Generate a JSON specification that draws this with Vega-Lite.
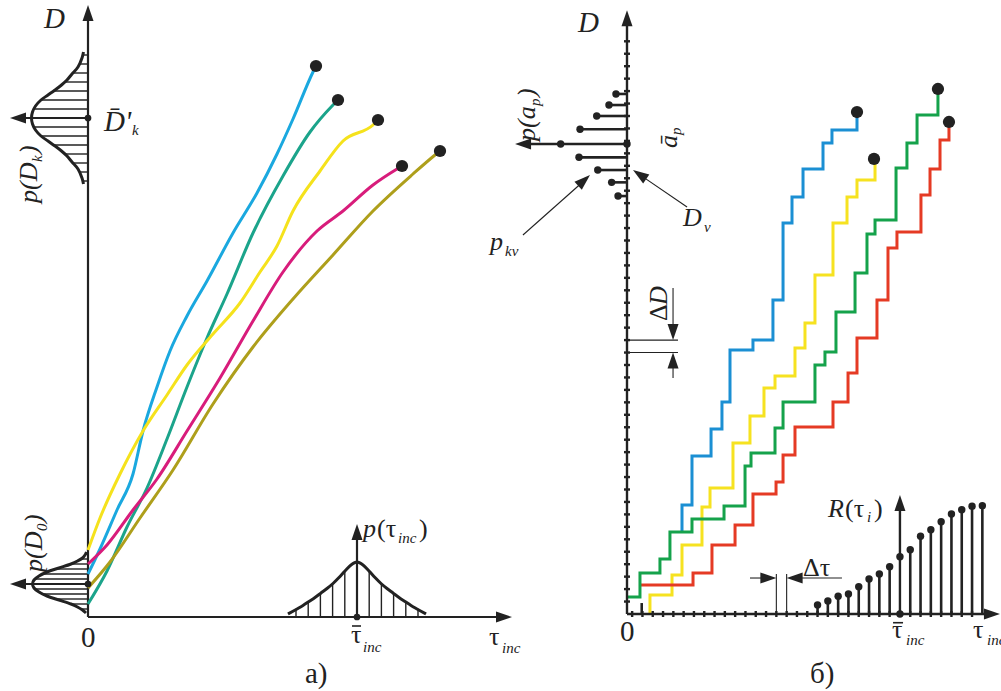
{
  "$schema": "https://vega.github.io/schema/vega-lite/v6.json",
  "background": "white",
  "padding": 0,
  "spacing": 0,
  "bounds": "flush",
  "config": {"view": {"stroke": null}, "axis": {"disable": true}},
  "datasets": {
    "curvesA": [
      {"s": "c", "t": 0, "d": 4.3}, {"s": "c", "t": 1.2, "d": 6.8}, {"s": "c", "t": 2.9, "d": 10.7}, {"s": "c", "t": 4.5, "d": 14.3}, {"s": "c", "t": 5.5, "d": 18.6}, {"s": "c", "t": 6.9, "d": 23.0}, {"s": "c", "t": 8.2, "d": 26.6}, {"s": "c", "t": 9.9, "d": 30.1}, {"s": "c", "t": 11.9, "d": 33.6}, {"s": "c", "t": 14.5, "d": 38.4}, {"s": "c", "t": 16.9, "d": 42.4}, {"s": "c", "t": 18.9, "d": 46.3}, {"s": "c", "t": 20.5, "d": 49.8}, {"s": "c", "t": 22.5, "d": 54.5}, {"s": "c", "t": 22.8, "d": 55.1},
      {"s": "t", "t": 0, "d": 1.3}, {"s": "t", "t": 1.9, "d": 4.6}, {"s": "t", "t": 3.9, "d": 9.0}, {"s": "t", "t": 5.9, "d": 12.9}, {"s": "t", "t": 7.9, "d": 17.8}, {"s": "t", "t": 9.9, "d": 23.0}, {"s": "t", "t": 11.9, "d": 27.9}, {"s": "t", "t": 13.9, "d": 32.3}, {"s": "t", "t": 16.5, "d": 38.4}, {"s": "t", "t": 19.5, "d": 44.1}, {"s": "t", "t": 22.2, "d": 48.5}, {"s": "t", "t": 24.5, "d": 51.2}, {"s": "t", "t": 25.0, "d": 51.7},
      {"s": "y", "t": 0, "d": 6.7}, {"s": "y", "t": 1.2, "d": 9.9}, {"s": "y", "t": 3.2, "d": 14.3}, {"s": "y", "t": 5.5, "d": 18.6}, {"s": "y", "t": 7.9, "d": 22.2}, {"s": "y", "t": 9.9, "d": 25.2}, {"s": "y", "t": 12.5, "d": 28.3}, {"s": "y", "t": 15.2, "d": 31.4}, {"s": "y", "t": 17.2, "d": 34.5}, {"s": "y", "t": 18.9, "d": 37.1}, {"s": "y", "t": 20.5, "d": 40.6}, {"s": "y", "t": 23.2, "d": 44.6}, {"s": "y", "t": 25.5, "d": 47.6}, {"s": "y", "t": 28.5, "d": 49.2}, {"s": "y", "t": 29.0, "d": 49.7},
      {"s": "m", "t": 0, "d": 5.3}, {"s": "m", "t": 1.9, "d": 7.2}, {"s": "m", "t": 4.5, "d": 10.7}, {"s": "m", "t": 6.9, "d": 13.8}, {"s": "m", "t": 9.9, "d": 18.6}, {"s": "m", "t": 13.2, "d": 23.9}, {"s": "m", "t": 16.5, "d": 29.6}, {"s": "m", "t": 19.5, "d": 34.5}, {"s": "m", "t": 22.9, "d": 38.6}, {"s": "m", "t": 25.5, "d": 40.6}, {"s": "m", "t": 28.5, "d": 43.2}, {"s": "m", "t": 30.9, "d": 44.8}, {"s": "m", "t": 31.4, "d": 45.1},
      {"s": "o", "t": 0, "d": 2.9}, {"s": "o", "t": 2.2, "d": 5.5}, {"s": "o", "t": 5.2, "d": 9.9}, {"s": "o", "t": 8.5, "d": 14.7}, {"s": "o", "t": 12.5, "d": 21.3}, {"s": "o", "t": 16.5, "d": 27.0}, {"s": "o", "t": 20.5, "d": 31.8}, {"s": "o", "t": 24.5, "d": 36.2}, {"s": "o", "t": 28.5, "d": 40.6}, {"s": "o", "t": 32.5, "d": 44.3}, {"s": "o", "t": 34.7, "d": 46.2}, {"s": "o", "t": 35.2, "d": 46.6}
    ],
    "endsA": [
      {"t": 22.8, "d": 55.1}, {"t": 25.0, "d": 51.7}, {"t": 29.0, "d": 49.7}, {"t": 31.4, "d": 45.1}, {"t": 35.2, "d": 46.6}
    ],
    "gaussV": [
      {"g": "k", "t": -0.45, "d": 43.3}, {"g": "k", "t": -0.6, "d": 43.9}, {"g": "k", "t": -1.0, "d": 44.8}, {"g": "k", "t": -1.6, "d": 45.5}, {"g": "k", "t": -2.1, "d": 46.1}, {"g": "k", "t": -2.65, "d": 46.6}, {"g": "k", "t": -3.3, "d": 47.1}, {"g": "k", "t": -4.0, "d": 47.6}, {"g": "k", "t": -4.7, "d": 48.1}, {"g": "k", "t": -5.25, "d": 48.7}, {"g": "k", "t": -5.55, "d": 49.3}, {"g": "k", "t": -5.65, "d": 49.9}, {"g": "k", "t": -5.55, "d": 50.5}, {"g": "k", "t": -5.25, "d": 51.1}, {"g": "k", "t": -4.7, "d": 51.7}, {"g": "k", "t": -4.0, "d": 52.2}, {"g": "k", "t": -3.3, "d": 52.7}, {"g": "k", "t": -2.65, "d": 53.2}, {"g": "k", "t": -2.1, "d": 53.7}, {"g": "k", "t": -1.6, "d": 54.3}, {"g": "k", "t": -1.0, "d": 55.0}, {"g": "k", "t": -0.6, "d": 55.9}, {"g": "k", "t": -0.45, "d": 56.5},
      {"g": "0", "t": -0.2, "d": 0.4}, {"g": "0", "t": -0.55, "d": 0.7}, {"g": "0", "t": -1.05, "d": 1.0}, {"g": "0", "t": -1.7, "d": 1.3}, {"g": "0", "t": -2.9, "d": 1.7}, {"g": "0", "t": -4.1, "d": 2.1}, {"g": "0", "t": -4.9, "d": 2.5}, {"g": "0", "t": -5.4, "d": 2.9}, {"g": "0", "t": -5.55, "d": 3.3}, {"g": "0", "t": -5.4, "d": 3.7}, {"g": "0", "t": -4.9, "d": 4.1}, {"g": "0", "t": -4.1, "d": 4.5}, {"g": "0", "t": -2.9, "d": 4.9}, {"g": "0", "t": -1.7, "d": 5.3}, {"g": "0", "t": -1.05, "d": 5.6}, {"g": "0", "t": -0.55, "d": 5.9}, {"g": "0", "t": -0.3, "d": 6.2}, {"g": "0", "t": -0.15, "d": 6.5}
    ],
    "gaussH": [
      {"t": 20.0, "d": 0.3}, {"t": 20.9, "d": 0.8}, {"t": 21.5, "d": 1.15}, {"t": 22.1, "d": 1.55}, {"t": 22.7, "d": 1.95}, {"t": 23.3, "d": 2.4}, {"t": 23.9, "d": 2.85}, {"t": 24.5, "d": 3.35}, {"t": 25.1, "d": 3.95}, {"t": 25.7, "d": 4.6}, {"t": 26.3, "d": 5.2}, {"t": 26.9, "d": 5.5}, {"t": 27.5, "d": 5.2}, {"t": 28.1, "d": 4.6}, {"t": 28.7, "d": 3.95}, {"t": 29.3, "d": 3.35}, {"t": 29.9, "d": 2.85}, {"t": 30.5, "d": 2.4}, {"t": 31.1, "d": 1.95}, {"t": 31.7, "d": 1.55}, {"t": 32.3, "d": 1.15}, {"t": 32.9, "d": 0.8}, {"t": 33.8, "d": 0.3}
    ],
    "segA": [
      {"k": "axis", "t": 0, "d": 0, "t2": 0, "d2": 60.5},
      {"k": "axis", "t": 0, "d": 0, "t2": 41.5, "d2": 0},
      {"k": "axis", "t": 0, "d": 49.9, "t2": -7.0, "d2": 49.9},
      {"k": "axis", "t": 0, "d": 3.3, "t2": -7.0, "d2": 3.3},
      {"k": "axis", "t": 26.9, "d": 0, "t2": 26.9, "d2": 8.5},
      {"k": "h", "t": -5.4, "d": 50.8, "t2": 0, "d2": 50.8}, {"k": "h", "t": -5.4, "d": 49.0, "t2": 0, "d2": 49.0},
      {"k": "h", "t": -4.7, "d": 51.7, "t2": 0, "d2": 51.7}, {"k": "h", "t": -4.7, "d": 48.1, "t2": 0, "d2": 48.1},
      {"k": "h", "t": -3.45, "d": 52.6, "t2": 0, "d2": 52.6}, {"k": "h", "t": -3.45, "d": 47.2, "t2": 0, "d2": 47.2},
      {"k": "h", "t": -2.35, "d": 53.5, "t2": 0, "d2": 53.5}, {"k": "h", "t": -2.35, "d": 46.3, "t2": 0, "d2": 46.3},
      {"k": "h", "t": -1.5, "d": 54.4, "t2": 0, "d2": 54.4}, {"k": "h", "t": -1.5, "d": 45.4, "t2": 0, "d2": 45.4},
      {"k": "h", "t": -0.85, "d": 55.3, "t2": 0, "d2": 55.3}, {"k": "h", "t": -0.85, "d": 44.5, "t2": 0, "d2": 44.5},
      {"k": "h", "t": -0.5, "d": 56.2, "t2": 0, "d2": 56.2}, {"k": "h", "t": -0.5, "d": 43.6, "t2": 0, "d2": 43.6},
      {"k": "h", "t": -5.3, "d": 3.8, "t2": 0, "d2": 3.8}, {"k": "h", "t": -5.3, "d": 2.8, "t2": 0, "d2": 2.8},
      {"k": "h", "t": -4.55, "d": 4.3, "t2": 0, "d2": 4.3}, {"k": "h", "t": -4.55, "d": 2.3, "t2": 0, "d2": 2.3},
      {"k": "h", "t": -3.2, "d": 4.8, "t2": 0, "d2": 4.8}, {"k": "h", "t": -3.2, "d": 1.8, "t2": 0, "d2": 1.8},
      {"k": "h", "t": -1.7, "d": 5.3, "t2": 0, "d2": 5.3}, {"k": "h", "t": -1.7, "d": 1.3, "t2": 0, "d2": 1.3},
      {"k": "h", "t": -0.7, "d": 5.8, "t2": 0, "d2": 5.8}, {"k": "h", "t": -0.7, "d": 0.8, "t2": 0, "d2": 0.8},
      {"k": "h", "t": -0.25, "d": 6.3, "t2": 0, "d2": 6.3},
      {"k": "h", "t": 28.12, "d": 0, "t2": 28.12, "d2": 4.58}, {"k": "h", "t": 25.68, "d": 0, "t2": 25.68, "d2": 4.58},
      {"k": "h", "t": 29.34, "d": 0, "t2": 29.34, "d2": 3.32}, {"k": "h", "t": 24.46, "d": 0, "t2": 24.46, "d2": 3.32},
      {"k": "h", "t": 30.56, "d": 0, "t2": 30.56, "d2": 2.36}, {"k": "h", "t": 23.24, "d": 0, "t2": 23.24, "d2": 2.36},
      {"k": "h", "t": 31.78, "d": 0, "t2": 31.78, "d2": 1.47}, {"k": "h", "t": 22.02, "d": 0, "t2": 22.02, "d2": 1.47},
      {"k": "h", "t": 33.0, "d": 0, "t2": 33.0, "d2": 0.72}, {"k": "h", "t": 20.8, "d": 0, "t2": 20.8, "d2": 0.72},
      {"k": "bar", "t": 26.4, "d": -0.9, "t2": 27.3, "d2": -0.9}
    ],
    "arrA": [
      {"dir": "up", "t": 0, "d": 61.2}, {"dir": "right", "t": 42.4, "d": 0}, {"dir": "left", "t": -7.8, "d": 49.9}, {"dir": "left", "t": -7.8, "d": 3.3}, {"dir": "up", "t": 26.9, "d": 9.3}
    ],
    "dotsA": [
      {"t": 0, "d": 49.9}, {"t": 0, "d": 3.3}, {"t": 26.9, "d": 0}
    ],
    "labelsA": [
      {"text": "D", "f": "it", "r": "big", "o": "h", "t": -4.4, "d": 58.9},
      {"text": "p(D", "f": "it", "r": "main", "o": "v", "t": -5.1, "d": 41.4},
      {"text": "k", "f": "it", "r": "sub", "o": "v", "t": -4.6, "d": 45.5},
      {"text": ")", "f": "it", "r": "main", "o": "v", "t": -5.1, "d": 46.3},
      {"text": "D\u0304'", "f": "it", "r": "big", "o": "h", "t": 1.6, "d": 48.6},
      {"text": "k", "f": "it", "r": "sub", "o": "h", "t": 4.4, "d": 48.2},
      {"text": "p(D", "f": "it", "r": "main", "o": "v", "t": -4.6, "d": 4.5},
      {"text": "0", "f": "it", "r": "sub", "o": "v", "t": -4.1, "d": 8.6},
      {"text": ")", "f": "it", "r": "main", "o": "v", "t": -4.6, "d": 9.4},
      {"text": "p", "f": "it", "r": "main", "o": "h", "t": 27.5, "d": 8.0},
      {"text": "(τ", "f": "up", "r": "main", "o": "h", "t": 28.9, "d": 8.0},
      {"text": "inc", "f": "it", "r": "sub", "o": "h", "t": 31.0, "d": 7.4},
      {"text": ")", "f": "up", "r": "main", "o": "h", "t": 33.1, "d": 8.0},
      {"text": "τ", "f": "up", "r": "main", "o": "h", "t": 26.3, "d": -2.6},
      {"text": "inc", "f": "it", "r": "sub", "o": "h", "t": 27.5, "d": -3.5},
      {"text": "τ", "f": "up", "r": "main", "o": "h", "t": 40.1, "d": -2.8},
      {"text": "inc", "f": "it", "r": "sub", "o": "h", "t": 41.4, "d": -3.6},
      {"text": "0", "f": "up", "r": "big", "o": "h", "t": -0.7, "d": -3.0},
      {"text": "a)", "f": "up", "r": "big", "o": "h", "t": 21.7, "d": -6.6}
    ],
    "stepsB": [
      {"s": "b", "t": 5.34, "d": 6.59}, {"s": "b", "t": 5.34, "d": 8.76}, {"s": "b", "t": 6.31, "d": 12.69}, {"s": "b", "t": 8.16, "d": 14.86}, {"s": "b", "t": 9.22, "d": 17.03}, {"s": "b", "t": 10.0, "d": 21.2}, {"s": "b", "t": 12.23, "d": 22.01}, {"s": "b", "t": 14.17, "d": 25.22}, {"s": "b", "t": 15.15, "d": 31.41}, {"s": "b", "t": 16.02, "d": 33.49}, {"s": "b", "t": 17.09, "d": 35.74}, {"s": "b", "t": 19.03, "d": 37.83}, {"s": "b", "t": 19.9, "d": 38.88}, {"s": "b", "t": 22.33, "d": 40.32},
      {"s": "y", "t": 2.23, "d": 0.08}, {"s": "y", "t": 2.23, "d": 1.53}, {"s": "y", "t": 4.37, "d": 3.13}, {"s": "y", "t": 5.34, "d": 5.54}, {"s": "y", "t": 7.28, "d": 8.59}, {"s": "y", "t": 8.06, "d": 10.12}, {"s": "y", "t": 10.29, "d": 13.73}, {"s": "y", "t": 11.94, "d": 15.9}, {"s": "y", "t": 13.3, "d": 18.15}, {"s": "y", "t": 14.37, "d": 19.12}, {"s": "y", "t": 16.31, "d": 21.37}, {"s": "y", "t": 17.28, "d": 23.37}, {"s": "y", "t": 18.25, "d": 27.23}, {"s": "y", "t": 20.0, "d": 31.41}, {"s": "y", "t": 21.36, "d": 33.49}, {"s": "y", "t": 22.33, "d": 34.86}, {"s": "y", "t": 24.08, "d": 36.47},
      {"s": "r", "t": 1.36, "d": 2.33}, {"s": "r", "t": 6.41, "d": 3.29}, {"s": "r", "t": 8.25, "d": 5.54}, {"s": "r", "t": 10.49, "d": 7.15}, {"s": "r", "t": 12.23, "d": 9.64}, {"s": "r", "t": 14.47, "d": 10.6}, {"s": "r", "t": 15.15, "d": 12.77}, {"s": "r", "t": 16.31, "d": 15.02}, {"s": "r", "t": 20.0, "d": 17.03}, {"s": "r", "t": 21.46, "d": 19.36}, {"s": "r", "t": 22.33, "d": 22.17}, {"s": "r", "t": 24.27, "d": 25.22}, {"s": "r", "t": 25.34, "d": 29.4}, {"s": "r", "t": 26.21, "d": 30.68}, {"s": "r", "t": 28.54, "d": 33.65}, {"s": "r", "t": 29.42, "d": 35.74}, {"s": "r", "t": 30.39, "d": 38.07}, {"s": "r", "t": 31.26, "d": 39.52},
      {"s": "g", "t": 0, "d": 1.37}, {"s": "g", "t": 1.26, "d": 3.29}, {"s": "g", "t": 3.2, "d": 4.42}, {"s": "g", "t": 4.17, "d": 6.59}, {"s": "g", "t": 6.31, "d": 7.63}, {"s": "g", "t": 9.42, "d": 8.67}, {"s": "g", "t": 11.46, "d": 11.89}, {"s": "g", "t": 12.04, "d": 12.93}, {"s": "g", "t": 14.37, "d": 14.94}, {"s": "g", "t": 15.15, "d": 17.03}, {"s": "g", "t": 18.25, "d": 20.0}, {"s": "g", "t": 19.22, "d": 21.04}, {"s": "g", "t": 20.29, "d": 24.26}, {"s": "g", "t": 22.14, "d": 27.39}, {"s": "g", "t": 23.3, "d": 30.52}, {"s": "g", "t": 24.08, "d": 31.65}, {"s": "g", "t": 26.12, "d": 35.82}, {"s": "g", "t": 27.18, "d": 37.83}, {"s": "g", "t": 28.16, "d": 40.08}, {"s": "g", "t": 30.19, "d": 42.09}
    ],
    "endsB": [
      {"t": 22.33, "d": 40.32}, {"t": 23.98, "d": 36.55}, {"t": 31.26, "d": 39.52}, {"t": 30.19, "d": 42.17}
    ],
    "segB": [
      {"k": "axis", "t": 0, "d": 0, "t2": 0, "d2": 47.5},
      {"k": "axis", "t": 0, "d": 0, "t2": 35.0, "d2": 0},
      {"k": "axis", "t": 0, "d": 37.75, "t2": -9.8, "d2": 37.75},
      {"k": "axis", "t": 26.5, "d": 0, "t2": 26.5, "d2": 8.6},
      {"k": "stem", "t": 0, "d": 41.77, "t2": -1.07, "d2": 41.77},
      {"k": "stem", "t": 0, "d": 40.88, "t2": -1.75, "d2": 40.88},
      {"k": "stem", "t": 0, "d": 40.0, "t2": -2.94, "d2": 40.0},
      {"k": "stem", "t": 0, "d": 38.93, "t2": -4.56, "d2": 38.93},
      {"k": "stem", "t": 0, "d": 36.68, "t2": -4.66, "d2": 36.68},
      {"k": "stem", "t": 0, "d": 35.66, "t2": -2.84, "d2": 35.66},
      {"k": "stem", "t": 0, "d": 34.67, "t2": -1.49, "d2": 34.67},
      {"k": "stem", "t": 0, "d": 33.57, "t2": -0.87, "d2": 33.57},
      {"k": "stem", "t": 18.5, "d": 0, "t2": 18.5, "d2": 0.72},
      {"k": "stem", "t": 19.5, "d": 0, "t2": 19.5, "d2": 1.04},
      {"k": "stem", "t": 20.5, "d": 0, "t2": 20.5, "d2": 1.42},
      {"k": "stem", "t": 21.5, "d": 0, "t2": 21.5, "d2": 1.61},
      {"k": "stem", "t": 22.5, "d": 0, "t2": 22.5, "d2": 2.19},
      {"k": "stem", "t": 23.5, "d": 0, "t2": 23.5, "d2": 2.81},
      {"k": "stem", "t": 24.5, "d": 0, "t2": 24.5, "d2": 3.21},
      {"k": "stem", "t": 25.5, "d": 0, "t2": 25.5, "d2": 3.8},
      {"k": "stem", "t": 27.5, "d": 0, "t2": 27.5, "d2": 5.16},
      {"k": "stem", "t": 28.5, "d": 0, "t2": 28.5, "d2": 6.24},
      {"k": "stem", "t": 29.5, "d": 0, "t2": 29.5, "d2": 6.77},
      {"k": "stem", "t": 30.5, "d": 0, "t2": 30.5, "d2": 7.41},
      {"k": "stem", "t": 31.5, "d": 0, "t2": 31.5, "d2": 8.03},
      {"k": "stem", "t": 32.5, "d": 0, "t2": 32.5, "d2": 8.38},
      {"k": "stem", "t": 33.5, "d": 0, "t2": 33.5, "d2": 8.65},
      {"k": "stem", "t": 34.5, "d": 0, "t2": 34.5, "d2": 8.7},
      {"k": "stem", "t": 1.43, "d": 0, "t2": 1.43, "d2": 0.88},
      {"k": "thin", "t": 0, "d": 22.0, "t2": 4.95, "d2": 22.0},
      {"k": "thin", "t": 0, "d": 21.0, "t2": 4.95, "d2": 21.0},
      {"k": "thin", "t": 4.47, "d": 26.18, "t2": 4.47, "d2": 22.5},
      {"k": "thin", "t": 4.47, "d": 18.96, "t2": 4.47, "d2": 20.5},
      {"k": "thin", "t": 14.5, "d": 0, "t2": 14.5, "d2": 3.21},
      {"k": "thin", "t": 15.5, "d": 0, "t2": 15.5, "d2": 3.21},
      {"k": "thin", "t": 11.94, "d": 2.89, "t2": 14.0, "d2": 2.89},
      {"k": "thin", "t": 16.0, "d": 2.89, "t2": 20.87, "d2": 2.89},
      {"k": "thin", "t": -10.1, "d": 30.44, "t2": -4.3, "d2": 34.7},
      {"k": "thin", "t": 5.83, "d": 32.69, "t2": 1.3, "d2": 35.25},
      {"k": "bar", "t": 25.83, "d": -0.7, "t2": 26.8, "d2": -0.7}
    ],
    "arrB": [
      {"dir": "up", "t": 0, "d": 48.5}, {"dir": "right", "t": 36.21, "d": 0}, {"dir": "left", "t": -10.87, "d": 37.75}, {"dir": "up", "t": 26.5, "d": 9.56},
      {"dir": "down", "t": 4.47, "d": 22.0}, {"dir": "up", "t": 4.47, "d": 21.0}, {"dir": "right", "t": 14.5, "d": 2.89}, {"dir": "left", "t": 15.5, "d": 2.89},
      {"dir": "pkv", "t": -3.59, "d": 35.26}, {"dir": "dnu", "t": 0.58, "d": 35.66}
    ],
    "dotsB": [
      {"t": -1.07, "d": 41.77}, {"t": -1.75, "d": 40.88}, {"t": -2.94, "d": 40.0}, {"t": -4.56, "d": 38.93}, {"t": -6.44, "d": 37.75}, {"t": -4.66, "d": 36.68}, {"t": -2.84, "d": 35.66}, {"t": -1.49, "d": 34.67}, {"t": -0.87, "d": 33.57}, {"t": 0, "d": 37.75},
      {"t": 18.5, "d": 0.72}, {"t": 19.5, "d": 1.04}, {"t": 20.5, "d": 1.42}, {"t": 21.5, "d": 1.61}, {"t": 22.5, "d": 2.19}, {"t": 23.5, "d": 2.81}, {"t": 24.5, "d": 3.21}, {"t": 25.5, "d": 3.8}, {"t": 26.5, "d": 4.6}, {"t": 27.5, "d": 5.16}, {"t": 28.5, "d": 6.24}, {"t": 29.5, "d": 6.77}, {"t": 30.5, "d": 7.41}, {"t": 31.5, "d": 8.03}, {"t": 32.5, "d": 8.38}, {"t": 33.5, "d": 8.65}, {"t": 34.5, "d": 8.7}, {"t": 26.5, "d": 0}
    ],
    "yticksB": [
      {"t": 0, "d": 1}, {"t": 0, "d": 2}, {"t": 0, "d": 3}, {"t": 0, "d": 4}, {"t": 0, "d": 5}, {"t": 0, "d": 6}, {"t": 0, "d": 7}, {"t": 0, "d": 8}, {"t": 0, "d": 9}, {"t": 0, "d": 10},
      {"t": 0, "d": 11}, {"t": 0, "d": 12}, {"t": 0, "d": 13}, {"t": 0, "d": 14}, {"t": 0, "d": 15}, {"t": 0, "d": 16}, {"t": 0, "d": 17}, {"t": 0, "d": 18}, {"t": 0, "d": 19}, {"t": 0, "d": 20},
      {"t": 0, "d": 21}, {"t": 0, "d": 22}, {"t": 0, "d": 23}, {"t": 0, "d": 24}, {"t": 0, "d": 25}, {"t": 0, "d": 26}, {"t": 0, "d": 27}, {"t": 0, "d": 28}, {"t": 0, "d": 29}, {"t": 0, "d": 30},
      {"t": 0, "d": 31}, {"t": 0, "d": 32}, {"t": 0, "d": 33}, {"t": 0, "d": 34}, {"t": 0, "d": 35}, {"t": 0, "d": 36}, {"t": 0, "d": 37}, {"t": 0, "d": 38}, {"t": 0, "d": 39}, {"t": 0, "d": 40},
      {"t": 0, "d": 41}, {"t": 0, "d": 42}, {"t": 0, "d": 43}, {"t": 0, "d": 44}, {"t": 0, "d": 45}, {"t": 0, "d": 46}
    ],
    "xticksB": [
      {"t": 0.5, "d": 0}, {"t": 1.5, "d": 0}, {"t": 2.5, "d": 0}, {"t": 3.5, "d": 0}, {"t": 4.5, "d": 0}, {"t": 5.5, "d": 0}, {"t": 6.5, "d": 0}, {"t": 7.5, "d": 0}, {"t": 8.5, "d": 0}, {"t": 9.5, "d": 0},
      {"t": 10.5, "d": 0}, {"t": 11.5, "d": 0}, {"t": 12.5, "d": 0}, {"t": 13.5, "d": 0}, {"t": 14.5, "d": 0}, {"t": 15.5, "d": 0}, {"t": 16.5, "d": 0}, {"t": 17.5, "d": 0}, {"t": 18.5, "d": 0}, {"t": 19.5, "d": 0},
      {"t": 20.5, "d": 0}, {"t": 21.5, "d": 0}, {"t": 22.5, "d": 0}, {"t": 23.5, "d": 0}, {"t": 24.5, "d": 0}, {"t": 25.5, "d": 0}, {"t": 26.5, "d": 0}, {"t": 27.5, "d": 0}, {"t": 28.5, "d": 0}, {"t": 29.5, "d": 0},
      {"t": 30.5, "d": 0}, {"t": 31.5, "d": 0}, {"t": 32.5, "d": 0}, {"t": 33.5, "d": 0}
    ],
    "labelsB": [
      {"text": "D", "f": "it", "r": "big", "o": "h", "t": -4.76, "d": 46.75},
      {"text": "p(a", "f": "it", "r": "main", "o": "v", "t": -8.93, "d": 37.99},
      {"text": "p", "f": "it", "r": "sub", "o": "v", "t": -8.45, "d": 40.8},
      {"text": ")", "f": "it", "r": "main", "o": "v", "t": -8.93, "d": 41.53},
      {"text": "a\u0304", "f": "it", "r": "main", "o": "v", "t": 4.85, "d": 37.43},
      {"text": "p", "f": "it", "r": "sub", "o": "v", "t": 5.24, "d": 38.47},
      {"text": "D", "f": "it", "r": "main", "o": "h", "t": 5.44, "d": 31.16},
      {"text": "ν", "f": "it", "r": "sub", "o": "h", "t": 7.48, "d": 30.68},
      {"text": "p", "f": "it", "r": "main", "o": "h", "t": -13.3, "d": 29.24},
      {"text": "kν", "f": "it", "r": "sub", "o": "h", "t": -11.84, "d": 28.76},
      {"text": "R", "f": "it", "r": "main", "o": "h", "t": 19.51, "d": 7.79},
      {"text": "(τ", "f": "up", "r": "main", "o": "h", "t": 21.17, "d": 7.79},
      {"text": "i", "f": "it", "r": "sub", "o": "h", "t": 23.3, "d": 7.39},
      {"text": ")", "f": "up", "r": "main", "o": "h", "t": 23.98, "d": 7.79},
      {"text": "τ", "f": "up", "r": "main", "o": "h", "t": 25.73, "d": -1.93},
      {"text": "inc", "f": "it", "r": "sub", "o": "h", "t": 27.09, "d": -2.49},
      {"text": "τ", "f": "up", "r": "main", "o": "h", "t": 33.59, "d": -1.93},
      {"text": "0", "f": "up", "r": "big", "o": "h", "t": -0.68, "d": -2.17},
      {"text": "б)", "f": "up", "r": "big", "o": "h", "t": 17.77, "d": -5.54},
      {"text": "Δτ", "f": "up", "r": "main", "o": "h", "t": 17.09, "d": 3.05},
      {"text": "Δ", "f": "up", "r": "main", "o": "v", "t": 3.88, "d": 23.53},
      {"text": "D", "f": "it", "r": "main", "o": "v", "t": 3.88, "d": 24.82}
    ],
    "edgeB": [
      {"text": "inc", "t": 34.95, "d": -2.49}
    ]
  },
  "hconcat": [
    {
      "width": 510,
      "height": 691,
      "encoding": {
        "x": {"field": "t", "type": "quantitative", "axis": null, "scale": {"domain": [-8.8, 42.2], "nice": false, "zero": false}},
        "y": {"field": "d", "type": "quantitative", "axis": null, "scale": {"domain": [-7.4, 61.7], "nice": false, "zero": false}}
      },
      "resolve": {"scale": {"angle": "independent", "size": "independent", "color": "independent"}},
      "layer": [
        {
          "data": {"name": "segA"},
          "transform": [{"filter": "datum.k == 'h'"}],
          "mark": {"type": "rule", "color": "#222", "strokeWidth": 1.4},
          "encoding": {"x2": {"field": "t2"}, "y2": {"field": "d2"}}
        },
        {
          "data": {"name": "segA"},
          "transform": [{"filter": "datum.k == 'bar'"}],
          "mark": {"type": "rule", "color": "#222", "strokeWidth": 1.6},
          "encoding": {"x2": {"field": "t2"}, "y2": {"field": "d2"}}
        },
        {
          "data": {"name": "segA"},
          "transform": [{"filter": "datum.k == 'axis'"}],
          "mark": {"type": "rule", "color": "#222", "strokeWidth": 2.2},
          "encoding": {"x2": {"field": "t2"}, "y2": {"field": "d2"}}
        },
        {
          "data": {"name": "gaussV"},
          "mark": {"type": "line", "color": "#222", "strokeWidth": 3, "interpolate": "catmull-rom"},
          "encoding": {"detail": {"field": "g"}, "order": {"field": "d", "type": "quantitative"}}
        },
        {
          "data": {"name": "gaussH"},
          "mark": {"type": "line", "color": "#222", "strokeWidth": 3, "interpolate": "monotone"},
          "encoding": {}
        },
        {
          "data": {"name": "curvesA"},
          "mark": {"type": "line", "strokeWidth": 3, "interpolate": "monotone"},
          "encoding": {
            "color": {"field": "s", "type": "nominal", "legend": null,
              "scale": {"domain": ["c", "t", "y", "m", "o"], "range": ["#1aa8df", "#1ba48b", "#f5e21c", "#d81c7b", "#ae9f1b"]}}
          }
        },
        {
          "data": {"name": "endsA"},
          "mark": {"type": "point", "filled": true, "color": "#222", "size": 150, "opacity": 1}
        },
        {
          "data": {"name": "dotsA"},
          "mark": {"type": "point", "filled": true, "color": "#222", "size": 45, "opacity": 1}
        },
        {
          "data": {"name": "arrA"},
          "mark": {"type": "point", "shape": "M0,0L0.55,1.6L-0.55,1.6Z", "filled": true, "color": "#222", "size": 400, "opacity": 1, "strokeWidth": 0},
          "encoding": {
            "angle": {"field": "dir", "type": "nominal", "legend": null,
              "scale": {"type": "ordinal", "domain": ["up", "right", "down", "left"], "range": [0, 90, 180, 270]}}
          }
        },
        {
          "data": {"name": "labelsA"},
          "transform": [{"filter": "datum.f == 'it'"}],
          "mark": {"type": "text", "font": "Liberation Serif", "fontStyle": "italic", "align": "left", "baseline": "alphabetic", "color": "#222"},
          "encoding": {
            "text": {"field": "text", "type": "nominal"},
            "size": {"field": "r", "type": "nominal", "legend": null, "scale": {"type": "ordinal", "domain": ["sub", "main", "big"], "range": [15, 26, 29]}},
            "angle": {"field": "o", "type": "nominal", "legend": null, "scale": {"type": "ordinal", "domain": ["h", "v"], "range": [0, 270]}}
          }
        },
        {
          "data": {"name": "labelsA"},
          "transform": [{"filter": "datum.f == 'up'"}],
          "mark": {"type": "text", "font": "Liberation Serif", "align": "left", "baseline": "alphabetic", "color": "#222"},
          "encoding": {
            "text": {"field": "text", "type": "nominal"},
            "size": {"field": "r", "type": "nominal", "legend": null, "scale": {"type": "ordinal", "domain": ["sub", "main", "big"], "range": [15, 26, 29]}},
            "angle": {"field": "o", "type": "nominal", "legend": null, "scale": {"type": "ordinal", "domain": ["h", "v"], "range": [0, 270]}}
          }
        }
      ]
    },
    {
      "width": 491,
      "height": 691,
      "encoding": {
        "x": {"field": "t", "type": "quantitative", "axis": null, "scale": {"domain": [-11.359, 36.311], "nice": false, "zero": false}},
        "y": {"field": "d", "type": "quantitative", "axis": null, "scale": {"domain": [-6.185, 49.317], "nice": false, "zero": false}}
      },
      "resolve": {"scale": {"angle": "independent", "size": "independent", "color": "independent"}},
      "layer": [
        {
          "data": {"name": "stepsB"},
          "mark": {"type": "line", "strokeWidth": 3, "interpolate": "step-after"},
          "encoding": {
            "color": {"field": "s", "type": "nominal", "legend": null,
              "scale": {"domain": ["b", "y", "r", "g"], "range": ["#1b8fd3", "#f6e220", "#e53a24", "#15a24b"]}},
            "order": {"field": "d", "type": "quantitative"}
          }
        },
        {
          "data": {"name": "segB"},
          "transform": [{"filter": "datum.k == 'thin'"}],
          "mark": {"type": "rule", "color": "#222", "strokeWidth": 1.1},
          "encoding": {"x2": {"field": "t2"}, "y2": {"field": "d2"}}
        },
        {
          "data": {"name": "segB"},
          "transform": [{"filter": "datum.k == 'bar'"}],
          "mark": {"type": "rule", "color": "#222", "strokeWidth": 1.6},
          "encoding": {"x2": {"field": "t2"}, "y2": {"field": "d2"}}
        },
        {
          "data": {"name": "segB"},
          "transform": [{"filter": "datum.k == 'stem'"}],
          "mark": {"type": "rule", "color": "#222", "strokeWidth": 2.6},
          "encoding": {"x2": {"field": "t2"}, "y2": {"field": "d2"}}
        },
        {
          "data": {"name": "segB"},
          "transform": [{"filter": "datum.k == 'axis'"}],
          "mark": {"type": "rule", "color": "#222", "strokeWidth": 2.4},
          "encoding": {"x2": {"field": "t2"}, "y2": {"field": "d2"}}
        },
        {
          "data": {"name": "yticksB"},
          "mark": {"type": "point", "shape": "M-1,0L1,0", "filled": false, "color": "#222", "size": 36, "strokeWidth": 2.4, "opacity": 1}
        },
        {
          "data": {"name": "xticksB"},
          "mark": {"type": "point", "shape": "M0,-1L0,1", "filled": false, "color": "#222", "size": 36, "strokeWidth": 2.4, "opacity": 1}
        },
        {
          "data": {"name": "dotsB"},
          "mark": {"type": "point", "filled": true, "color": "#222", "size": 55, "opacity": 1}
        },
        {
          "data": {"name": "endsB"},
          "mark": {"type": "point", "filled": true, "color": "#222", "size": 150, "opacity": 1}
        },
        {
          "data": {"name": "arrB"},
          "mark": {"type": "point", "shape": "M0,0L0.55,1.6L-0.55,1.6Z", "filled": true, "color": "#222", "size": 400, "opacity": 1, "strokeWidth": 0},
          "encoding": {
            "angle": {"field": "dir", "type": "nominal", "legend": null,
              "scale": {"type": "ordinal", "domain": ["up", "right", "down", "left", "pkv", "dnu"], "range": [0, 90, 180, 270, 48, 304]}}
          }
        },
        {
          "data": {"name": "labelsB"},
          "transform": [{"filter": "datum.f == 'it'"}],
          "mark": {"type": "text", "font": "Liberation Serif", "fontStyle": "italic", "align": "left", "baseline": "alphabetic", "color": "#222"},
          "encoding": {
            "text": {"field": "text", "type": "nominal"},
            "size": {"field": "r", "type": "nominal", "legend": null, "scale": {"type": "ordinal", "domain": ["sub", "main", "big"], "range": [15, 26, 29]}},
            "angle": {"field": "o", "type": "nominal", "legend": null, "scale": {"type": "ordinal", "domain": ["h", "v"], "range": [0, 270]}}
          }
        },
        {
          "data": {"name": "labelsB"},
          "transform": [{"filter": "datum.f == 'up'"}],
          "mark": {"type": "text", "font": "Liberation Serif", "align": "left", "baseline": "alphabetic", "color": "#222"},
          "encoding": {
            "text": {"field": "text", "type": "nominal"},
            "size": {"field": "r", "type": "nominal", "legend": null, "scale": {"type": "ordinal", "domain": ["sub", "main", "big"], "range": [15, 26, 29]}},
            "angle": {"field": "o", "type": "nominal", "legend": null, "scale": {"type": "ordinal", "domain": ["h", "v"], "range": [0, 270]}}
          }
        },
        {
          "data": {"name": "edgeB"},
          "mark": {"type": "text", "font": "Liberation Serif", "fontStyle": "italic", "fontSize": 15, "align": "left", "baseline": "alphabetic", "color": "#222", "clip": true},
          "encoding": {"text": {"field": "text", "type": "nominal"}}
        }
      ]
    }
  ]
}
